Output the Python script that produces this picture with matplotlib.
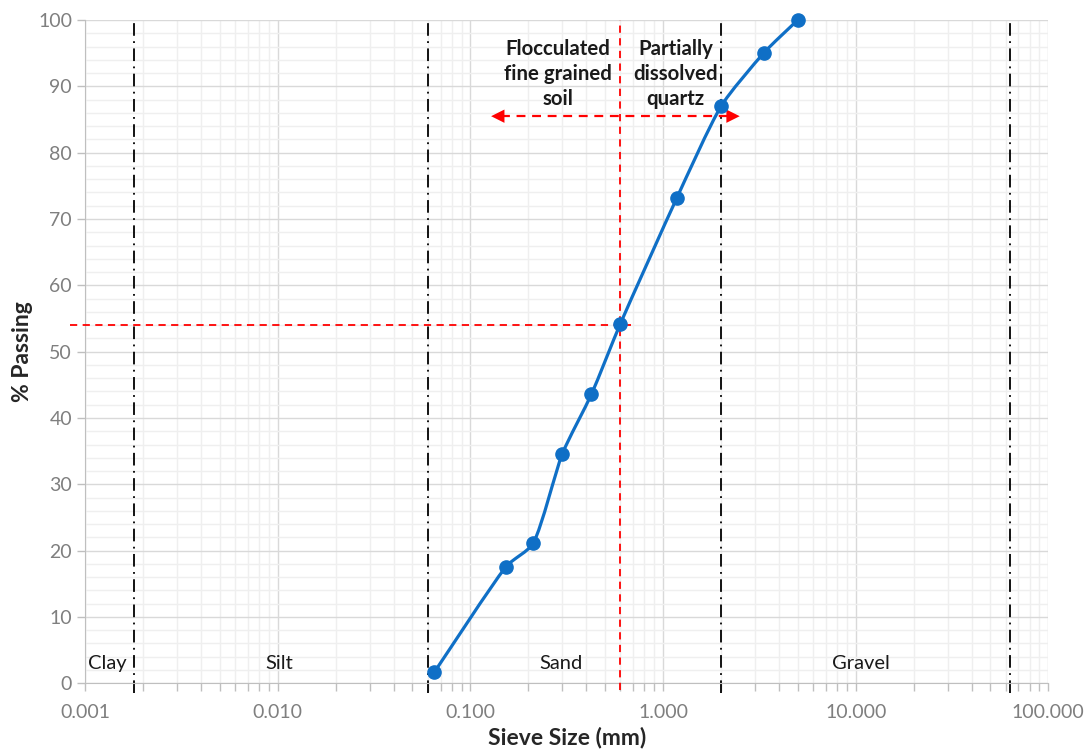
import numpy as np
import matplotlib
matplotlib.use('Agg')
import matplotlib.pyplot as plt
from matplotlib.path import Path
from matplotlib.patches import PathPatch
from matplotlib.ticker import FixedLocator, FuncFormatter

plt.rcParams['font.family'] = ['Lato', 'DejaVu Sans']

# Sieve analysis data
sieve_mm = [0.065, 0.153, 0.212, 0.30, 0.425, 0.60, 1.18, 2.0, 3.35, 5.0]
passing = [1.7, 17.6, 21.1, 34.6, 43.6, 54.2, 73.2, 87.0, 95.1, 100.0]

# Soil class boundaries and labels
boundaries = [0.0018, 0.06, 2.0, 63.0]
zone_names = ['Clay', 'Silt', 'Sand', 'Gravel']
zone_x = [0.0013, 0.0102, 0.295, 10.6]

# D-value guide (red dashed)
d_size = 0.6
d_pass = 54
arrow_y = 85.5
arrow_left = 0.128
arrow_right = 2.5

blue = '#0F6FC6'
red = '#FF0000'
tick_grey = '#7F7F7F'

fig = plt.figure(figsize=(10.89, 7.53), dpi=100)
ax = fig.add_axes([0.0783, 0.0926, 0.8843, 0.8808])
ax.set_xscale('log')
ax.set_xlim(0.001, 100)
ax.set_ylim(0, 100)

# grid
ax.set_yticks(np.arange(0, 101, 10))
ax.yaxis.set_minor_locator(FixedLocator(np.arange(0, 101, 2)))
ax.xaxis.set_major_locator(FixedLocator([0.001, 0.01, 0.1, 1, 10, 100]))
minors = [m * 10.0 ** e for e in range(-3, 2) for m in range(2, 10)]
ax.xaxis.set_minor_locator(FixedLocator(minors))
ax.xaxis.set_major_formatter(FuncFormatter(lambda v, p: f'{v:.3f}'))
ax.xaxis.set_minor_formatter(FuncFormatter(lambda v, p: ''))
ax.grid(True, which='major', color='#D9D9D9', lw=1.0)
ax.grid(True, which='minor', color='#EFEFEF', lw=1.0)
ax.set_axisbelow(True)

for s in ['top', 'right']:
    ax.spines[s].set_visible(False)
for s in ['left', 'bottom']:
    ax.spines[s].set_color('#BFBFBF')
ax.tick_params(axis='both', which='both', colors='#BFBFBF', labelcolor=tick_grey,
               labelsize=14, length=6, width=1)
ax.tick_params(axis='y', which='minor', length=0)
ax.tick_params(axis='x', which='major', pad=9)

# class boundaries
for b in boundaries:
    ax.plot([b, b], [-1.5, 99.5], color='black', lw=1.3,
            dashes=(7, 3, 1, 3), clip_on=False, zorder=2)
for name, zx in zip(zone_names, zone_x):
    ax.text(zx, 3.0, name, ha='center', va='center', fontsize=14.5, color='#1A1A1A')

# red guide lines
ax.plot([d_size, d_size], [-1.0, 100], color=red, lw=1.3, dashes=(4, 3),
        clip_on=False, zorder=3)
ax.plot([0.00083, 0.68], [d_pass, d_pass], color=red, lw=1.3, dashes=(4, 3),
        clip_on=False, zorder=3)

# double arrow
ax.plot([arrow_left * 1.12, arrow_right / 1.12], [arrow_y, arrow_y], color=red,
        lw=1.6, dashes=(4, 3), zorder=3)
for tip, off in [(arrow_left, 12), (arrow_right, -12)]:
    ax.annotate('', xy=(tip, arrow_y), xytext=(off, 0), textcoords='offset points',
                arrowprops=dict(arrowstyle='-|>', color=red, lw=0,
                                mutation_scale=24, shrinkA=0, shrinkB=0),
                zorder=4)

ax.text(0.285, 91.9, 'Flocculated\nfine grained\nsoil', ha='center', va='center',
        fontsize=14.7, fontweight='bold', color='#1A1A1A', linespacing=1.32)
ax.text(1.16, 91.9, 'Partially\ndissolved\nquartz', ha='center', va='center',
        fontsize=14.7, fontweight='bold', color='#1A1A1A', linespacing=1.32)

# smoothed grading curve: Bezier handles set in screen-like units so that
# short segments keep their kinks (like a spreadsheet smoothed line)
scale = np.array([193.3, 6.633])
pts = np.column_stack([np.log10(sieve_mm), passing]) * scale
n = len(pts)
tang = []
for i in range(n):
    d = pts[min(i + 1, n - 1)] - pts[max(i - 1, 0)]
    tang.append(d / np.hypot(*d))
verts = [pts[0]]
codes = [Path.MOVETO]
k = 0.22
for i in range(n - 1):
    seg = np.hypot(*(pts[i + 1] - pts[i]))
    verts += [pts[i] + tang[i] * seg * k, pts[i + 1] - tang[i + 1] * seg * k, pts[i + 1]]
    codes += [Path.CURVE4] * 3
verts = np.array(verts) / scale
verts[:, 0] = 10 ** verts[:, 0]
ax.add_patch(PathPatch(Path(verts, codes), fill=False, edgecolor=blue, lw=2.3,
                       transform=ax.transData, zorder=5))
ax.plot(sieve_mm, passing, 'o', color=blue, ms=9.5, zorder=6, clip_on=False)

ax.set_xlabel('Sieve Size (mm)', fontsize=16.5, fontweight='bold', color='#262626',
              labelpad=4)
ax.set_ylabel('% Passing', fontsize=16.5, fontweight='bold', color='#262626',
              labelpad=4)

fig.savefig('out.png', dpi=100)
